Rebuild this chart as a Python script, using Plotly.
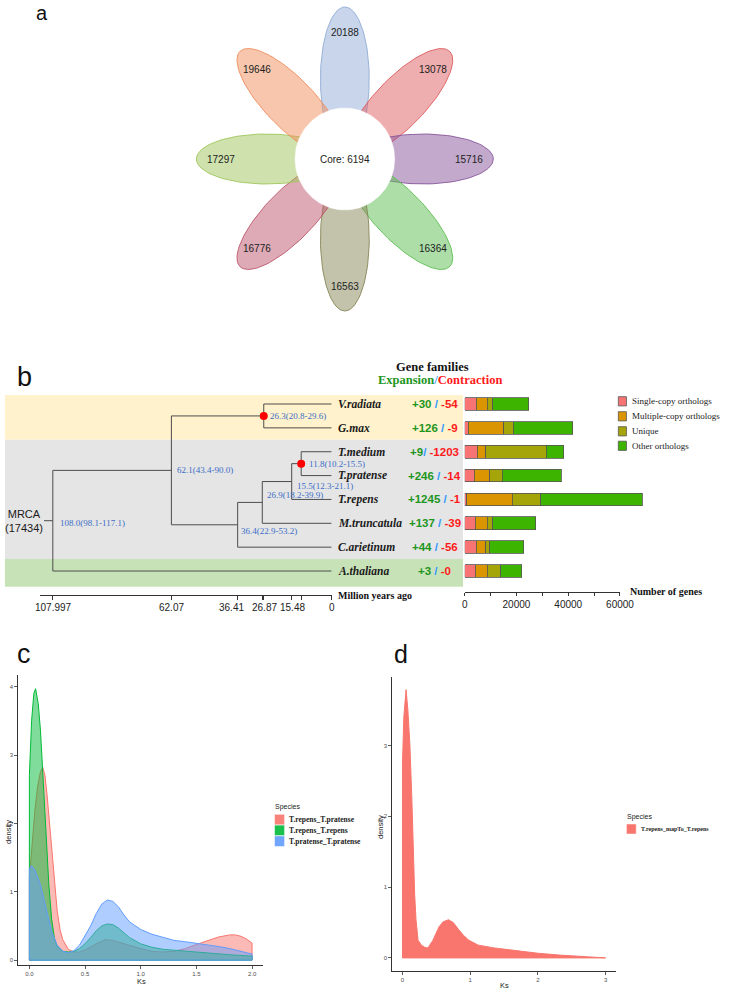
import numpy as np
import plotly.graph_objects as go

W, H = 730, 991
def PX(x): return x / W
def PY(y): return 1 - y / H

SERIF = "Liberation Serif"
SANS = "Liberation Sans"

# ---------------- Panel a: flower (core / pan gene families)
petal_values = [20188, 13078, 15716, 16364, 16563, 16776, 17297, 19646]
petal_rgb = [(145, 172, 214), (222, 92, 94), (135, 85, 155), (92, 190, 80),
             (135, 133, 88), (190, 86, 110), (160, 198, 92), (240, 142, 92)]
core_value = 6194

# ---------------- Panel b: tree + gene families + orthologs
species = ["V.radiata", "G.max", "T.medium", "T.pratense", "T.repens",
           "M.truncatula", "C.arietinum", "A.thaliana"]
expansion = [30, 126, 9, 246, 1245, 137, 44, 3]
contraction = [54, 9, 1203, 14, 1, 39, 56, 0]
separators = [" / ", " / ", "/ ", " / ", " / ", " / ", " / ", " / "]

single_copy = [4400, 1400, 4780, 3770, 750, 4150, 4400, 4030]
multi_copy = [4400, 13700, 3400, 5910, 17600, 4650, 3770, 4780]
unique_genes = [2000, 3650, 23400, 4780, 10950, 2010, 1510, 5030]
other_orth = [14000, 23000, 6670, 22900, 39250, 16730, 13080, 8180]
ortho_names = ["Single-copy orthologs", "Multiple-copy orthologs", "Unique", "Other orthologs"]
ortho_colors = ["#F87474", "#DA9500", "#A5A50A", "#3CB400"]

node_ages = {"root": 107.997, "n62": 62.07, "nVG": 26.3, "n36": 36.41,
             "n27": 26.87, "n15": 15.48, "n12": 11.8}
node_children = {"root": ["A.thaliana", "n62"], "n62": ["nVG", "n36"],
                 "nVG": ["V.radiata", "G.max"], "n36": ["n27", "C.arietinum"],
                 "n27": ["n15", "M.truncatula"], "n15": ["n12", "T.repens"],
                 "n12": ["T.medium", "T.pratense"]}
node_text = {"root": "108.0(98.1-117.1)", "n62": "62.1(43.4-90.0)", "nVG": "26.3(20.8-29.6)",
             "n36": "36.4(22.9-53.2)", "n27": "26.9(18.2-39.9)", "n15": "15.5(12.3-21.1)",
             "n12": "11.8(10.2-15.5)"}
red_nodes = ["nVG", "n12"]
root_stem_age = 111.4
mrca_label = "MRCA<br>(17434)"
tree_tickvals = [107.997, 62.07, 36.41, 26.87, 26.3, 15.48, 11.8, 0]
tree_ticktext = ["107.997", "62.07", "36.41", "26.87", "", "15.48", "", "0"]
bar_tickvals = [0, 10000, 20000, 30000, 40000, 50000, 60000]
bar_ticktext = ["0", "", "20000", "", "40000", "", "60000"]

# ---------------- Panel c: Ks densities
c_names = ["T.repens_T.pratense", "T.repens_T.repens", "T.pratense_T.pratense"]
c_colors = [(248, 118, 109), (0, 186, 56), (97, 156, 255)]
red_ks = [0, 0.025, 0.05, 0.075, 0.1, 0.12, 0.14, 0.16, 0.18, 0.2, 0.225, 0.25, 0.275, 0.3, 0.35,
          0.4, 0.45, 0.5, 0.6, 0.68, 0.75, 0.85, 1.0, 1.1, 1.2, 1.3, 1.4, 1.5, 1.6, 1.7, 1.8,
          1.85, 1.9, 1.95, 2.0]
red_den = [1.2, 1.7, 2.2, 2.55, 2.76, 2.82, 2.7, 2.4, 2.0, 1.6, 1.1, 0.72, 0.45, 0.3, 0.16,
           0.12, 0.12, 0.15, 0.24, 0.3, 0.29, 0.24, 0.17, 0.13, 0.12, 0.13, 0.17, 0.23, 0.29,
           0.34, 0.37, 0.37, 0.35, 0.31, 0.25]
green_ks = [0, 0.02, 0.04, 0.056, 0.08, 0.1, 0.125, 0.15, 0.175, 0.2, 0.225, 0.25, 0.3, 0.35,
            0.4, 0.45, 0.5, 0.55, 0.6, 0.65, 0.7, 0.75, 0.8, 0.85, 0.9, 1.0, 1.1, 1.2, 1.4,
            1.6, 1.8, 2.0]
green_den = [2.7, 3.5, 3.9, 3.97, 3.75, 3.35, 2.6, 1.8, 1.1, 0.6, 0.32, 0.2, 0.13, 0.12,
             0.13, 0.17, 0.24, 0.33, 0.43, 0.5, 0.53, 0.52, 0.47, 0.4, 0.33, 0.24, 0.19,
             0.16, 0.13, 0.11, 0.08, 0.06]
blue_ks = [0, 0.02, 0.05, 0.1, 0.15, 0.2, 0.25, 0.3, 0.35, 0.4, 0.45, 0.5, 0.55, 0.6, 0.65,
           0.7, 0.75, 0.8, 0.85, 0.9, 1.0, 1.1, 1.2, 1.3, 1.4, 1.5, 1.6, 1.7, 1.8, 1.9, 2.0]
blue_den = [1.35, 1.38, 1.32, 1.1, 0.75, 0.42, 0.22, 0.13, 0.11, 0.14, 0.22, 0.35, 0.5, 0.68,
            0.82, 0.88, 0.86, 0.78, 0.66, 0.56, 0.45, 0.38, 0.33, 0.29, 0.27, 0.25, 0.23,
            0.2, 0.17, 0.13, 0.09]

# ---------------- Panel d: Ks density
d_name = "T.repens_mapTo_T.repens"
d_ks = [0, 0.02, 0.04, 0.053, 0.08, 0.11, 0.14, 0.16, 0.18, 0.2, 0.23, 0.28, 0.33, 0.375,
        0.45, 0.54, 0.6, 0.68, 0.75, 0.83, 0.9, 0.98, 1.12, 1.36, 1.6, 2.0, 2.32, 2.7, 3.0]
d_den = [2.75, 3.4, 3.72, 3.79, 3.5, 3.0, 2.2, 1.48, 0.9, 0.54, 0.25, 0.18, 0.15, 0.14,
         0.25, 0.44, 0.51, 0.54, 0.5, 0.4, 0.32, 0.25, 0.18, 0.14, 0.11, 0.066, 0.04, 0.02, 0.01]

fig = go.Figure()
annotations = []
shapes = []

def ann(text, x, y, size, family=SANS, color="#1a1a1a", xanchor="center", yanchor="middle",
        xref="paper", yref="paper", **kw):
    d = dict(text=text, x=x, y=y, xref=xref, yref=yref, showarrow=False,
             font=dict(size=size, family=family, color=color),
             xanchor=xanchor, yanchor=yanchor, borderpad=0)
    d.update(kw)
    annotations.append(d)

# ================= Panel a =================
cx, cy = 350, 159
d_off, a_ax, b_ax = 80, 72, 25
t = np.linspace(0, 2 * np.pi, 120)
for k, (val, rgb) in enumerate(zip(petal_values, petal_rgb)):
    th = np.deg2rad(90 - 45 * k)
    e1 = np.array([np.cos(th), -np.sin(th)])
    e2 = np.array([np.sin(th), np.cos(th)])
    u = d_off + a_ax * np.cos(t)
    v = b_ax * np.sin(t)
    xs = cx + u * e1[0] + v * e2[0]
    ys = cy + u * e1[1] + v * e2[1]
    fig.add_trace(go.Scatter(x=xs, y=ys, mode="lines", fill="toself",
                             fillcolor="rgba(%d,%d,%d,0.5)" % rgb,
                             line=dict(color="rgba(%d,%d,%d,0.9)" % rgb, width=1),
                             xaxis="x", yaxis="y", hoverinfo="skip"))
    ann(str(val), cx + 127 * np.cos(th), cy - 127 * np.sin(th), 10, xref="x", yref="y", color="#222")
tc = np.linspace(0, 2 * np.pi, 150)
fig.add_trace(go.Scatter(x=cx + 51 * np.cos(tc), y=cy + 51 * np.sin(tc), mode="lines",
                         fill="toself", fillcolor="white", line=dict(color="white", width=0.5),
                         xaxis="x", yaxis="y", hoverinfo="skip"))
ann("Core: %d" % core_value, cx, cy, 10, xref="x", yref="y", color="#222")
ann("a", PX(40), PY(13), 20, color="#111")

# ================= Panel b =================
row = {s: i for i, s in enumerate(species)}
def ypos(n):
    if n in row:
        return row[n]
    return float(np.mean([ypos(c) for c in node_children[n]]))
def age(n):
    return node_ages.get(n, 0.0)

tx, ty = [], []
for n, ch in node_children.items():
    yc = [ypos(c) for c in ch]
    tx += [age(n), age(n), None]
    ty += [min(yc), max(yc), None]
    for c in ch:
        tx += [age(n), age(c), None]
        ty += [ypos(c), ypos(c), None]
tx += [root_stem_age, age("root"), None]
ty += [ypos("root"), ypos("root"), None]
fig.add_trace(go.Scatter(x=tx, y=ty, mode="lines", line=dict(color="#4d4d4d", width=1),
                         xaxis="x2", yaxis="y2", hoverinfo="skip"))
fig.add_trace(go.Scatter(x=[age(n) for n in red_nodes], y=[ypos(n) for n in red_nodes],
                         mode="markers", marker=dict(color="#FF0000", size=8),
                         xaxis="x2", yaxis="y2", hoverinfo="skip"))

label_shift = {"root": (6, -2), "n62": (5, 0), "nVG": (5, 0), "n36": (2, -6),
               "n27": (4, 7), "n15": (4, -4), "n12": (7, 0)}
for n, txt in node_text.items():
    xs_, ys_ = label_shift[n]
    ann(txt, age(n), ypos(n), 9, family=SERIF, color="#3B6DC7", xanchor="left",
        xref="x2", yref="y2", xshift=xs_, yshift=ys_)

ann(mrca_label, PX(22), ypos("root"), 11, color="#1a1a1a", yref="y2")

# tree axis tick labels (placed individually, as in the original)
tick_xshift = {"36.41": -6, "26.87": 2, "15.48": 1, "107.997": 1}
for tv, tt in zip(tree_tickvals, tree_ticktext):
    if tt:
        ann(tt, tv, PY(607), 10, color="#222", xref="x2", xshift=tick_xshift.get(tt, 0))

# background bands
band_y = [(-0.377, 1.5, "#FFF2CC"), (1.5, 6.5, "#E5E5E5"), (6.5, 7.66, "#C8E2B8")]
for y0, y1, col in band_y:
    shapes.append(dict(type="rect", xref="paper", yref="y2", x0=PX(2), x1=PX(471),
                       y0=y0, y1=y1, fillcolor=col, line=dict(width=0), layer="below"))

for i, s in enumerate(species):
    ann("<b><i>%s</i></b>" % s, PX(342), i, 11.5, family=SERIF, color="#1a1a1a",
        xanchor="left", yref="y2")
    txt = ("<b><span style='color:#1E961E'>+%d</span><span style='color:#3399FF'>%s</span>"
           "<span style='color:#FF1A1A'>-%d</span></b>") % (expansion[i], separators[i], contraction[i])
    ann(txt, PX(442), i, 11.5, family=SANS, yref="y2")

ann("<b>Gene families</b>", PX(440), PY(367.5), 12.5, family=SERIF, color="#111")
ann("<b><span style='color:#1E961E'>Expansion</span><span style='color:#3399FF'>/</span>"
    "<span style='color:#FF1A1A'>Contraction</span></b>", PX(447), PY(380), 12.5, family=SERIF)
ann("<b>Million years ago</b>", PX(342), PY(595), 10, family=SERIF, color="#111", xanchor="left")
ann("<b>Number of genes</b>", PX(641), PY(591), 10, family=SERIF, color="#111", xanchor="left")
ann("b", PX(22), PY(377), 27, color="#111")

for vals, name, col in zip([single_copy, multi_copy, unique_genes, other_orth], ortho_names, ortho_colors):
    fig.add_trace(go.Bar(x=vals, y=list(range(len(species))), orientation="h", name=name,
                         marker=dict(color=col, line=dict(color="#555555", width=0.8)),
                         width=0.53, xaxis="x3", yaxis="y2", hoverinfo="skip"))
# dummy invisible point so the displayed count axis is drawn
fig.add_trace(go.Scatter(x=[0], y=[0], mode="markers", marker=dict(opacity=0),
                         xaxis="x4", yaxis="y2", hoverinfo="skip"))

leg_y = [401.3, 416.3, 431.3, 445.8]
for name, col, yy in zip(ortho_names, ortho_colors, leg_y):
    shapes.append(dict(type="rect", xref="paper", yref="paper", x0=PX(630), x1=PX(638.3),
                       y0=PY(yy + 4.6), y1=PY(yy - 4.6), fillcolor=col,
                       line=dict(color="#555555", width=0.8)))
    ann(name, PX(643), PY(yy), 9, family=SERIF, color="#222", xanchor="left")

# ================= Panel c =================
c_series = [(red_ks, red_den), (green_ks, green_den), (blue_ks, blue_den)]
for (ks, den), name, rgb in zip(c_series, c_names, c_colors):
    fig.add_trace(go.Scatter(x=[ks[0]] + ks + [ks[-1], ks[0]], y=[0] + den + [0, 0],
                             mode="lines", fill="toself", name=name,
                             fillcolor="rgba(%d,%d,%d,0.5)" % rgb,
                             line=dict(color="rgb(%d,%d,%d)" % rgb, width=1),
                             xaxis="x5", yaxis="y5", hoverinfo="skip"))
ann("c", PX(22), PY(654), 27, color="#111")
ann("Ks", PX(142), PY(981.5), 7.5, color="#222")
ann("density", PX(5), PY(832), 7.5, color="#222", textangle=-90)
ann("Species", PX(277.5), PY(807), 7, color="#222", xanchor="left")
for j, (name, rgb) in enumerate(zip(c_names, c_colors)):
    y0 = 814.3 + 10.8 * j
    shapes.append(dict(type="rect", xref="paper", yref="paper", x0=PX(278), x1=PX(288.3),
                       y0=PY(y0 + 10.6), y1=PY(y0), fillcolor="rgba(%d,%d,%d,0.9)" % rgb,
                       line=dict(color="white", width=0.5)))
    ann("<b>%s</b>" % name, PX(291.5), PY(y0 + 5.3), 7.5, family=SERIF, color="#222", xanchor="left")

# ================= Panel d =================
fig.add_trace(go.Scatter(x=[d_ks[0]] + d_ks + [d_ks[-1], d_ks[0]], y=[0] + d_den + [0, 0],
                         mode="lines", fill="toself", name=d_name,
                         fillcolor="rgb(248,118,109)", line=dict(color="rgb(248,118,109)", width=1),
                         xaxis="x6", yaxis="y6", hoverinfo="skip"))
ann("d", PX(408), PY(654), 25, color="#111")
ann("Ks", PX(513), PY(985.5), 7.5, color="#222")
ann("density", PX(386), PY(827), 7.5, color="#222", textangle=-90)
ann("Species", PX(638), PY(817), 7, color="#222", xanchor="left")
shapes.append(dict(type="rect", xref="paper", yref="paper", x0=PX(638.3), x1=PX(648.3),
                   y0=PY(834), y1=PY(824), fillcolor="rgb(248,118,109)",
                   line=dict(color="white", width=0.5)))
ann("<b>%s</b>" % d_name, PX(652), PY(829), 6, family=SERIF, color="#222", xanchor="left")

# ================= Axes / layout =================
small_ax = dict(showline=True, linecolor="#333", linewidth=1, ticks="outside", ticklen=3,
                tickwidth=0.8, tickcolor="#333", showgrid=False, zeroline=False, tickangle=0,
                tickfont=dict(family=SANS, size=6, color="#4d4d4d"))
tree_left = (336.5 - 38) / ((336.5 - 51) / 107.997)

fig.update_layout(
    width=W, height=H, margin=dict(l=0, r=0, t=0, b=0),
    paper_bgcolor="white", plot_bgcolor="rgba(0,0,0,0)",
    showlegend=False, hovermode=False, barmode="stack",
    annotations=annotations, shapes=shapes,
    xaxis=dict(domain=[0, 1], range=[0, W], visible=False, anchor="y"),
    yaxis=dict(domain=[PY(330), 1], range=[330, 0], visible=False, anchor="x"),
    xaxis2=dict(domain=[PX(38), PX(336.5)], range=[tree_left, 0], anchor="y2",
                showline=True, linecolor="#333", linewidth=1, ticks="outside", ticklen=4,
                tickcolor="#333", tickvals=tree_tickvals, showticklabels=False,
                showgrid=False, zeroline=False),
    yaxis2=dict(domain=[PY(594.5), PY(395)], range=[7.984, -0.377], visible=False, anchor="x2"),
    xaxis3=dict(domain=[PX(472.7), PX(663.5)], range=[0, 72000], visible=False, anchor="y2"),
    xaxis4=dict(domain=[PX(472.7), PX(631.7)], range=[0, 60000], anchor="free", position=PY(592),
                showline=True, linecolor="#333", linewidth=1, ticks="outside", ticklen=3,
                tickcolor="#333", tickvals=bar_tickvals, ticktext=bar_ticktext, tickangle=0,
                tickfont=dict(family=SANS, size=10, color="#222"), showgrid=False, zeroline=False),
    xaxis5=dict(domain=[PX(15.6), PX(266.4)], range=[-0.1, 2.1], anchor="y5",
                tickvals=[0, 0.5, 1, 1.5, 2], ticktext=["0.0", "0.5", "1.0", "1.5", "2.0"], **small_ax),
    yaxis5=dict(domain=[PY(965), PY(675)], range=[-0.07, 4.17], anchor="x5",
                tickvals=[0, 1, 2, 3, 4], **small_ax),
    xaxis6=dict(domain=[PX(398.6), PX(627.4)], range=[-0.15, 3.15], anchor="y6",
                tickvals=[0, 1, 2, 3], **small_ax),
    yaxis6=dict(domain=[PY(971), PY(677)], range=[-0.185, 3.97], anchor="x6",
                tickvals=[0, 1, 2, 3], **small_ax),
)

fig.write_html("out.html", config={"displayModeBar": False, "staticPlot": True},
               post_script="document.body.style.margin='0px';document.body.style.overflow='hidden';")
